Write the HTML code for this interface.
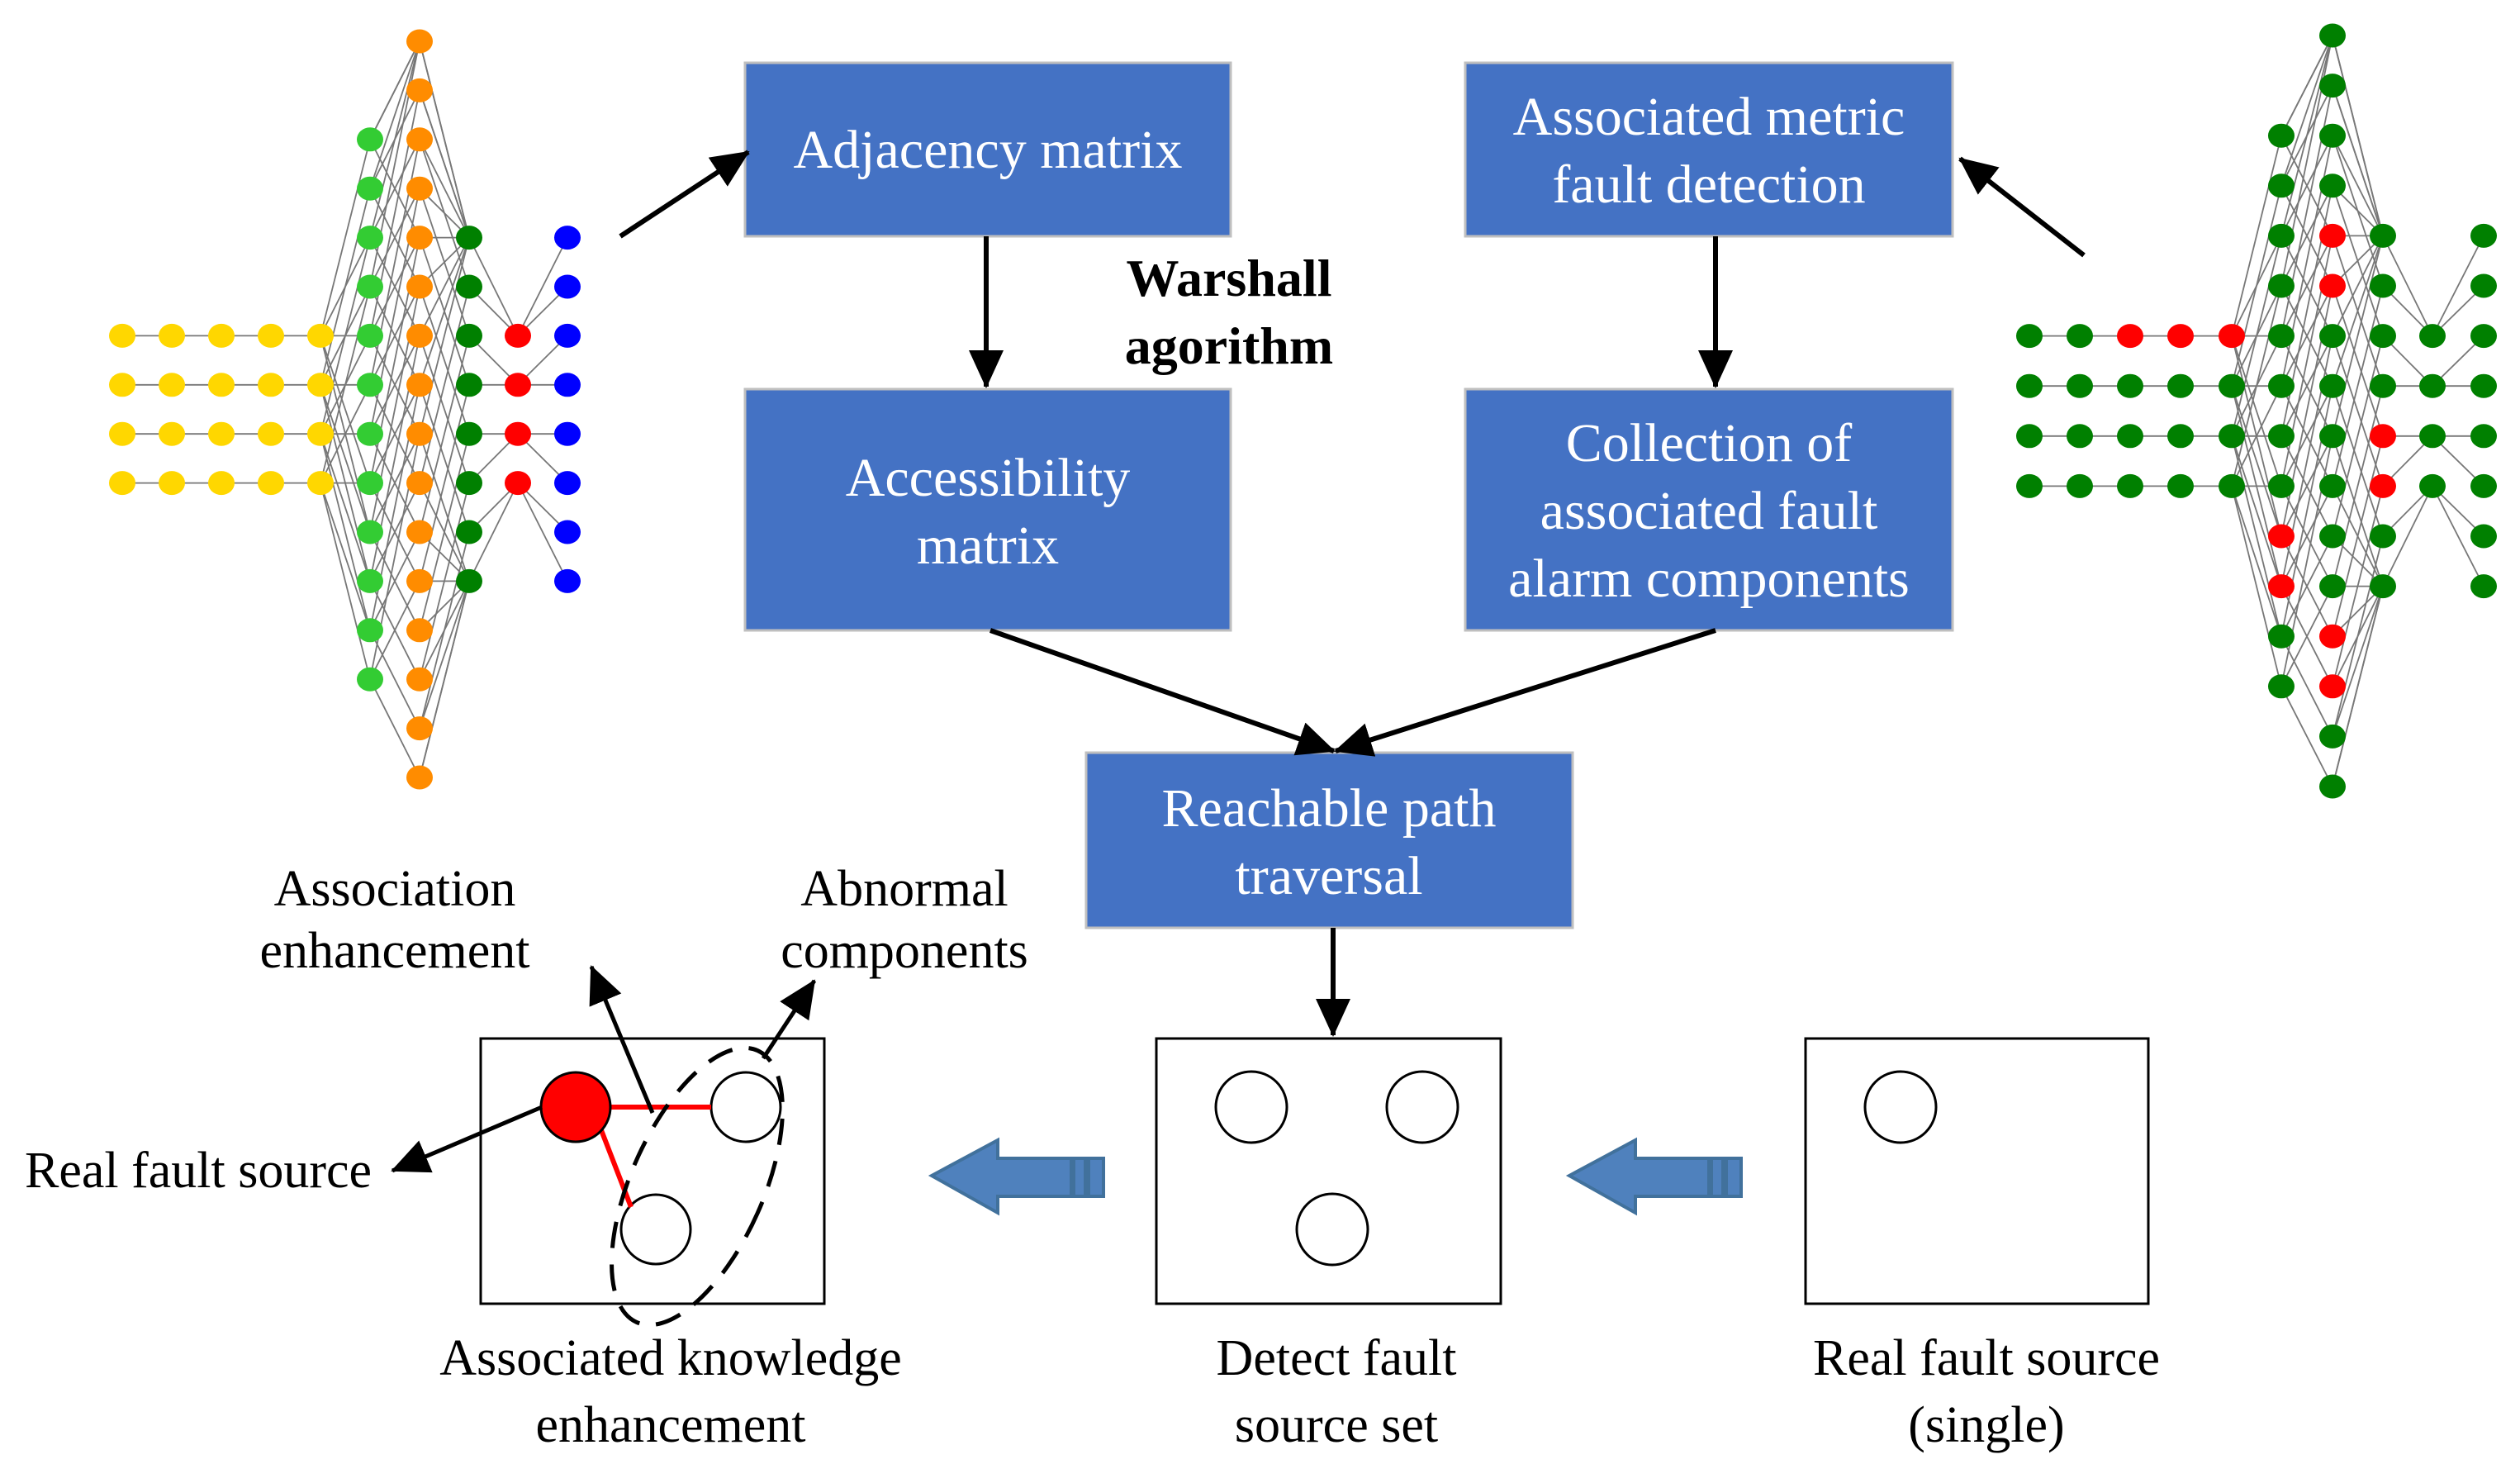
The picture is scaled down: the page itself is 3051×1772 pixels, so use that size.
<!DOCTYPE html>
<html><head><meta charset="utf-8"><style>
html,body{margin:0;padding:0;background:#fff;}
svg{display:block;}
text{font-family:"Liberation Serif",serif;}
</style></head><body>
<svg id="s" width="3051" height="1772" viewBox="0 0 3051 1772" xmlns="http://www.w3.org/2000/svg">
<defs>
<marker id="ah" markerUnits="userSpaceOnUse" markerWidth="50" markerHeight="44" refX="44" refY="21" orient="auto"><polygon points="0,0 46,21 0,42" fill="#000"/></marker>
</defs>
<g id="graphs"></g>

<g fill="#4472C4" stroke="#BFBFBF" stroke-width="3">
<rect x="902" y="76" width="588" height="210"/>
<rect x="902" y="471" width="588" height="292"/>
<rect x="1774" y="76" width="590" height="210"/>
<rect x="1774" y="471" width="590" height="292"/>
<rect x="1315" y="911" width="589" height="212"/>
</g>
<g fill="#fff" font-size="66" text-anchor="middle">
<text x="1196" y="203">Adjacency matrix</text>
<text x="1196" y="600">Accessibility</text>
<text x="1196" y="682">matrix</text>
<text x="2069" y="163">Associated metric</text>
<text x="2069" y="245">fault detection</text>
<text x="2069" y="558">Collection of</text>
<text x="2069" y="640">associated fault</text>
<text x="2069" y="722">alarm components</text>
<text x="1609" y="1000">Reachable path</text>
<text x="1609" y="1082">traversal</text>
</g>
<g font-size="64" font-weight="bold" text-anchor="middle">
<text x="1488" y="358">Warshall</text>
<text x="1488" y="440">agorithm</text>
</g>

<g stroke="#000" stroke-width="6" fill="none" marker-end="url(#ah)">
<line x1="1194" y1="286" x2="1194" y2="468"/>
<line x1="2077" y1="286" x2="2077" y2="468"/>
<line x1="1199" y1="763" x2="1615" y2="909"/>
<line x1="2077" y1="763" x2="1617" y2="909"/>
<line x1="1614" y1="1123" x2="1614" y2="1253"/>
<line x1="751" y1="286" x2="906" y2="184"/>
<line x1="2523" y1="309" x2="2373" y2="192"/>
</g>

<g fill="#fff" stroke="#000" stroke-width="3">
<rect x="582" y="1257" width="416" height="321"/>
<rect x="1400" y="1257" width="417" height="321"/>
<rect x="2186" y="1257" width="415" height="321"/>
</g>
<g fill="#fff" stroke="#000" stroke-width="3">
<circle cx="1515" cy="1340" r="43"/>
<circle cx="1722" cy="1340" r="43"/>
<circle cx="1613" cy="1488" r="43"/>
<circle cx="2301" cy="1340" r="43"/>
<circle cx="903" cy="1340" r="42"/>
<circle cx="794" cy="1488" r="42"/>
</g>
<g stroke="#FF0000" stroke-width="6">
<line x1="738" y1="1340" x2="861" y2="1340"/>
<line x1="728" y1="1368" x2="764" y2="1461"/>
</g>
<circle cx="697" cy="1340" r="42" fill="#FF0000" stroke="#000" stroke-width="3"/>
<ellipse cx="844" cy="1436" rx="80" ry="180" transform="rotate(24 844 1436)" fill="none" stroke="#000" stroke-width="5" stroke-dasharray="32 20"/>
<g stroke="#000" stroke-width="5" fill="none" marker-end="url(#ah)">
<line x1="656" y1="1340" x2="475" y2="1417"/>
<line x1="790" y1="1347" x2="716" y2="1170"/>
<line x1="924" y1="1281" x2="986" y2="1187"/>
</g>

<g fill="#4F81BD" stroke="#41719C" stroke-width="4">
<polygon points="1128,1423 1208,1380 1208,1402 1297,1402 1297,1448 1208,1448 1208,1468"/>
<rect x="1300" y="1402" width="14" height="46"/>
<rect x="1318" y="1402" width="18" height="46"/>
<polygon points="1900,1423 1980,1380 1980,1402 2069,1402 2069,1448 1980,1448 1980,1468"/>
<rect x="2072" y="1402" width="14" height="46"/>
<rect x="2090" y="1402" width="18" height="46"/>
</g>

<g font-size="62" text-anchor="middle" fill="#000">
<text x="478" y="1096">Association</text>
<text x="478" y="1171">enhancement</text>
<text x="1095" y="1096">Abnormal</text>
<text x="1095" y="1171">components</text>
<text x="240" y="1437">Real fault source</text>
<text x="812" y="1664">Associated knowledge</text>
<text x="812" y="1745">enhancement</text>
<text x="1618" y="1664">Detect fault</text>
<text x="1618" y="1745">source set</text>
<text x="2405" y="1664">Real fault source</text>
<text x="2405" y="1745">(single)</text>
</g>
</svg>
<script>
(function(){
var NS="http://www.w3.org/2000/svg";
var g=document.getElementById("graphs");
var ranges=[[6,9],[6,9],[6,9],[6,9],[6,9],[2,13],[0,15],[4,11],[6,9],[4,11]];
var edges=[];
for(var c=0;c<4;c++)for(var k=6;k<=9;k++)edges.push([c,k,c+1,k]);
for(var k=6;k<=9;k++){edges.push([4,k,5,k]);edges.push([4,k,5,k+3]);edges.push([4,k,5,k+4]);edges.push([4,k,5,2+(k-6)]);edges.push([4,k,5,k-2]);}
for(var k=2;k<=13;k++){edges.push([5,k,6,k+2]);if(k-2>=0)edges.push([6,k-2,5,k]);edges.push([5,k,6,Math.max(0,k-5)]);}
for(var k=0;k<=15;k++){var t=Math.min(11,Math.max(4,k+3));edges.push([6,k,7,t]);var u=Math.min(11,Math.max(4,k-4));edges.push([6,k,7,u]);}
edges.push([7,4,8,6],[7,5,8,6],[7,6,8,7],[7,7,8,7],[7,8,8,8],[7,9,8,8],[7,10,8,9],[7,11,8,9]);
edges.push([8,6,9,4],[8,6,9,5],[8,7,9,6],[8,7,9,7],[8,8,9,8],[8,8,9,9],[8,9,9,10],[8,9,9,11]);
function draw(xs,y0,st,colorFn){
  var eg=document.createElementNS(NS,"g");eg.setAttribute("stroke","#777");eg.setAttribute("stroke-width","1.8");
  edges.forEach(function(e){
    if(e[3]<ranges[e[2]][0]||e[3]>ranges[e[2]][1]||e[1]<ranges[e[0]][0]||e[1]>ranges[e[0]][1])return;
    var l=document.createElementNS(NS,"line");
    l.setAttribute("x1",xs[e[0]]);l.setAttribute("y1",y0+st*e[1]);
    l.setAttribute("x2",xs[e[2]]);l.setAttribute("y2",y0+st*e[3]);eg.appendChild(l);});
  g.appendChild(eg);
  for(var c=0;c<10;c++)for(var k=ranges[c][0];k<=ranges[c][1];k++){
    var el=document.createElementNS(NS,"ellipse");
    el.setAttribute("cx",xs[c]);el.setAttribute("cy",y0+st*k);el.setAttribute("rx",16);el.setAttribute("ry",14.5);
    el.setAttribute("fill",colorFn(c,k));g.appendChild(el);}
}
draw([148,208,268,328,388,448,508,568,627,687],50,59.4,function(c,k){
  return c<5?"#FFD700":c==5?"#33CC33":c==6?"#FF8C00":c==7?"#008000":c==8?"#FF0000":"#0000FF";});
var reds={"2,6":1,"3,6":1,"4,6":1,"5,10":1,"5,11":1,"6,4":1,"6,5":1,"6,12":1,"6,13":1,"7,8":1,"7,9":1};
draw([2457,2518,2579,2640,2702,2762,2824,2885,2945,3007],43,60.6,function(c,k){
  return reds[c+","+k]?"#FF0000":"#008000";});
})();
</script>
</body></html>
